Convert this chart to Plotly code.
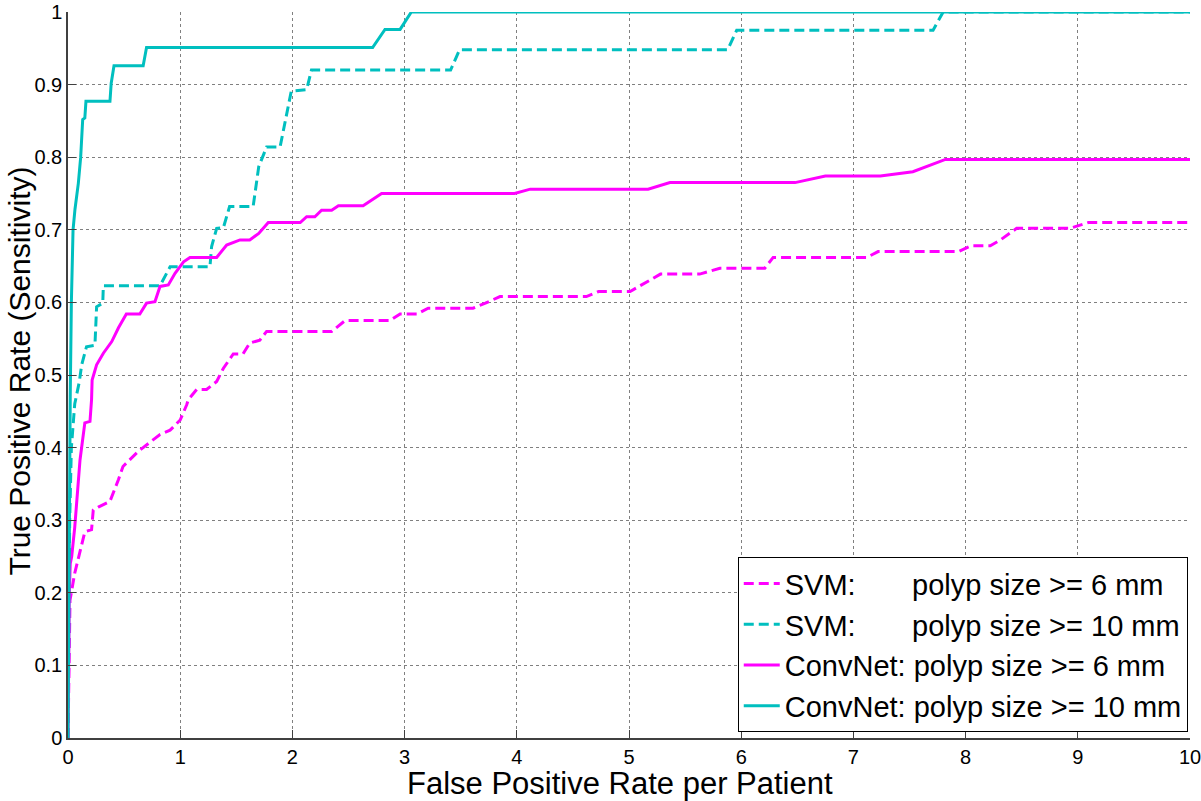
import plotly.graph_objects as go

# ---- data ----
svm6_x = [0, 0.01, 0.018, 0.06, 0.107, 0.15, 0.21, 0.225, 0.27, 0.374, 0.45, 0.49, 0.627, 0.716, 0.82, 0.91, 1.0, 1.058,
          1.072, 1.147, 1.235, 1.325, 1.384, 1.473, 1.56, 1.62, 1.71, 1.77, 2.35, 2.47, 2.87, 2.96, 3.11, 3.21, 3.61,
          3.72, 3.85, 4.62, 4.73, 5.01, 5.28, 5.63, 5.81, 6.21, 6.285, 7.12, 7.22, 7.935, 8.05, 8.22, 8.31, 8.455,
          8.93, 9.095, 10]
svm6_y = [0, 0.10, 0.19, 0.227, 0.259, 0.284, 0.287, 0.314, 0.318, 0.326, 0.356, 0.374, 0.395, 0.406, 0.418, 0.424, 0.438, 0.459,
          0.466, 0.480, 0.480, 0.491, 0.509, 0.529, 0.529, 0.544, 0.548, 0.560, 0.560, 0.575, 0.575, 0.584, 0.584, 0.592, 0.592,
          0.599, 0.608, 0.608, 0.615, 0.615, 0.639, 0.639, 0.647, 0.647, 0.662, 0.662, 0.670, 0.670, 0.678, 0.678, 0.686, 0.702,
          0.702, 0.710, 0.710]

svm10_x = [0, 0.008, 0.015, 0.03, 0.06, 0.1, 0.122, 0.165, 0.24, 0.255, 0.31, 0.315, 0.82, 0.91, 1.265, 1.28, 1.325, 1.385,
           1.44, 1.65, 1.70, 1.77, 1.89, 1.99, 2.127, 2.17, 3.41, 3.49, 5.88, 5.96, 7.71, 7.80, 10]
svm10_y = [0, 0.20, 0.30, 0.40, 0.46, 0.49, 0.514, 0.539, 0.541, 0.594, 0.599, 0.623, 0.623, 0.649, 0.649, 0.677, 0.702, 0.703,
           0.732, 0.732, 0.787, 0.814, 0.814, 0.891, 0.893, 0.92, 0.92, 0.948, 0.948, 0.975, 0.975, 1.0, 1.0]

cnn6_x = [0, 0.005, 0.012, 0.02, 0.033, 0.06, 0.08, 0.107, 0.15, 0.196, 0.21, 0.215, 0.255, 0.30, 0.315, 0.39, 0.45, 0.52,
          0.64, 0.70, 0.775, 0.82, 0.894, 0.954, 1.03, 1.087, 1.325, 1.414, 1.533, 1.62, 1.70, 1.785, 2.07, 2.127, 2.20,
          2.26, 2.35, 2.41, 2.63, 2.795, 3.98, 4.12, 5.17, 5.365, 6.48, 6.75, 7.24, 7.53, 7.82, 10]
cnn6_y = [0, 0.10, 0.20, 0.24, 0.25, 0.29, 0.328, 0.383, 0.434, 0.436, 0.466, 0.493, 0.514, 0.525, 0.53, 0.546, 0.565, 0.584,
          0.584, 0.599, 0.601, 0.622, 0.624, 0.640, 0.656, 0.662, 0.662, 0.679, 0.686, 0.686, 0.695, 0.710, 0.710, 0.718, 0.718,
          0.727, 0.727, 0.733, 0.733, 0.750, 0.750, 0.756, 0.756, 0.765, 0.765, 0.774, 0.774, 0.780, 0.797, 0.797]

cnn10_x = [0, 0.005, 0.01, 0.015, 0.02, 0.03, 0.045, 0.062, 0.092, 0.113, 0.131, 0.15, 0.16, 0.374, 0.385, 0.41, 0.67, 0.70,
           2.715, 2.825, 2.96, 3.06, 10]
cnn10_y = [0, 0.15, 0.30, 0.40, 0.47, 0.60, 0.70, 0.728, 0.764, 0.80, 0.852, 0.854, 0.877, 0.877, 0.902, 0.926, 0.926, 0.951,
           0.951, 0.976, 0.976, 1.0, 1.0]

names = ["SVM:       polyp size >= 6 mm", "SVM:       polyp size >= 10 mm",
         "ConvNet: polyp size >= 6 mm", "ConvNet: polyp size >= 10 mm"]

x_title = "False Positive Rate per Patient"
y_title = "True Positive Rate (Sensitivity)"

x_ticks = list(range(0, 11))
y_ticks = [0, 0.1, 0.2, 0.3, 0.4, 0.5, 0.6, 0.7, 0.8, 0.9, 1]
y_tick_text = ["0", "0.1", "0.2", "0.3", "0.4", "0.5", "0.6", "0.7", "0.8", "0.9", "1"]

MAG = "#FF00FF"
CYA = "#00BFBF"
DASH = "10px,5px"

fig = go.Figure()
series = [
    (svm6_x, svm6_y, names[0], MAG, DASH),
    (svm10_x, svm10_y, names[1], CYA, DASH),
    (cnn6_x, cnn6_y, names[2], MAG, "solid"),
    (cnn10_x, cnn10_y, names[3], CYA, "solid"),
]
for xs, ys, nm, col, dash in series:
    fig.add_trace(go.Scatter(x=xs, y=ys, mode="lines", name=nm,
                             line=dict(color=col, width=3, dash=dash)))

FONT = "Liberation Sans, Arial, sans-serif"
fig.update_layout(
    width=1201, height=801,
    margin=dict(l=68, r=11, t=12, b=63),
    paper_bgcolor="white", plot_bgcolor="white",
    font=dict(family=FONT, color="black", size=20),
    showlegend=True,
    legend=dict(x=0.998, y=0.008, xanchor="right", yanchor="bottom",
                bgcolor="white", bordercolor="black", borderwidth=1,
                font=dict(size=29, family=FONT, color="black"),
                itemwidth=36),
)
fig.update_xaxes(
    range=[0, 10], tickvals=x_ticks, ticktext=[str(v) for v in x_ticks],
    showgrid=True, gridcolor="#808080", griddash="dot", gridwidth=1,
    showline=True, linecolor="#404040", linewidth=1.5,
    ticks="inside", ticklen=8, tickcolor="#404040",
    tickfont=dict(size=20), zeroline=False, automargin=False,
    ticklabeloverflow="allow",
)
fig.update_yaxes(
    range=[0, 1], tickvals=y_ticks, ticktext=y_tick_text,
    showgrid=True, gridcolor="#808080", griddash="dot", gridwidth=1,
    showline=True, linecolor="#404040", linewidth=1.5,
    ticks="inside", ticklen=8, tickcolor="#404040",
    tickfont=dict(size=20), zeroline=False, automargin=False,
    ticklabeloverflow="allow",
)
# axis titles as annotations for precise placement
fig.add_annotation(text=x_title, xref="paper", yref="paper", x=0.492, y=-0.062,
                   xanchor="center", yanchor="middle", showarrow=False,
                   font=dict(size=31, family=FONT, color="black"))
fig.add_annotation(text=y_title, xref="paper", yref="paper", x=-0.0435, y=0.505,
                   xanchor="center", yanchor="middle", showarrow=False, textangle=-90,
                   font=dict(size=30, family=FONT, color="black"))

fig.write_html("out.html", config={"displayModeBar": False},
               post_script="document.body.style.margin='0';document.body.style.overflow='hidden';")
